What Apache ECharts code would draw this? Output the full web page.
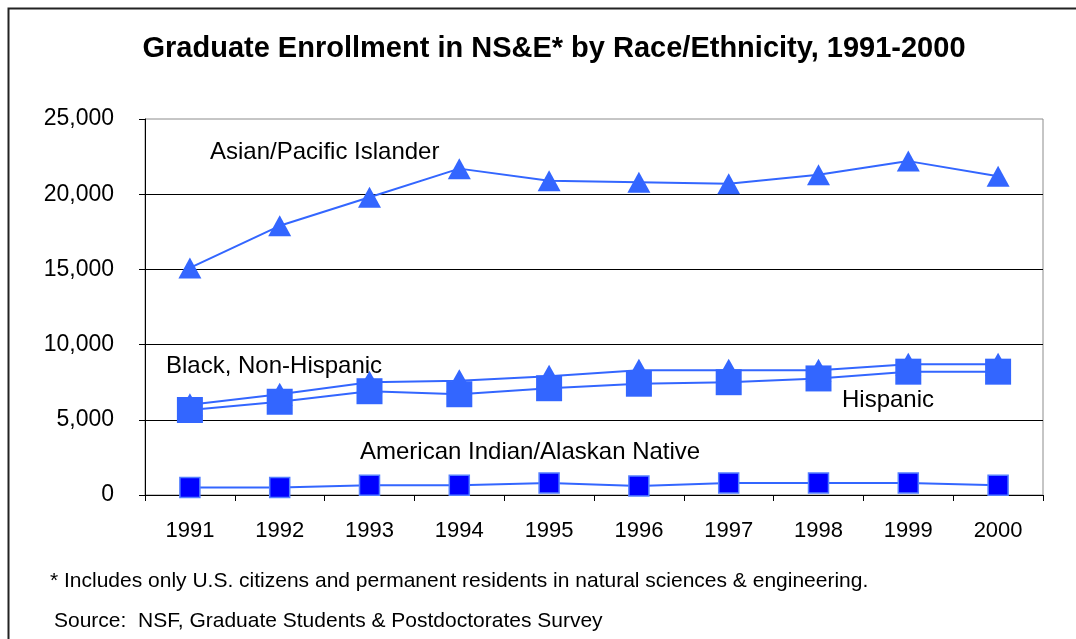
<!DOCTYPE html>
<html>
<head>
<meta charset="utf-8">
<script src="https://cdn.jsdelivr.net/npm/echarts@6/dist/echarts.min.js"></script>
<style>
  html, body { margin: 0; padding: 0; background: #fff; }
  #chart { width: 1076px; height: 639px; }
</style>
</head>
<body>
<div id="chart"></div>
<script>
// Graduate enrollment in natural sciences & engineering, by race/ethnicity
const years = ['1991', '1992', '1993', '1994', '1995', '1996', '1997', '1998', '1999', '2000'];
const asianPacific = [15100, 17900, 19800, 21700, 20900, 20800, 20700, 21300, 22200, 21200];
const blackNonHispanic = [6000, 6700, 7500, 7600, 7900, 8300, 8300, 8300, 8700, 8700];
const hispanic = [5650, 6200, 6900, 6700, 7100, 7400, 7500, 7750, 8200, 8200];
const americanIndian = [500, 500, 650, 650, 800, 600, 800, 800, 800, 650];
const yTicks = [0, 5000, 10000, 15000, 20000, 25000];

const FONT = "'Liberation Sans', Arial, sans-serif";
const BLUE = '#3366FF';

const chart = echarts.init(document.getElementById('chart'), null, { renderer: 'canvas' });

function lineSeries(name, data, symbol, size, fill, border) {
  return {
    name: name,
    type: 'line',
    data: data,
    symbol: symbol,
    symbolSize: size,
    showAllSymbol: true,
    animation: false,
    lineStyle: { color: BLUE, width: 2 },
    itemStyle: { color: fill, borderColor: border || fill, borderWidth: border ? 1.5 : 0 }
  };
}

function seriesLabel(text, x, y) {
  return { type: 'text', x: x, y: y, z: 100,
    style: { text: text, font: '24px ' + FONT, fill: '#000', textVerticalAlign: 'middle' } };
}

chart.setOption({
  animation: false,
  backgroundColor: '#fff',
  title: {
    text: 'Graduate Enrollment in NS&E* by Race/Ethnicity, 1991-2000',
    left: 549,
    textAlign: 'center',
    top: 29,
    textStyle: { fontFamily: FONT, fontSize: 29, fontWeight: 'bold', color: '#000' }
  },
  grid: {
    left: 145, top: 119, right: 33, bottom: 144,
    show: true, borderColor: '#8c8c8c', borderWidth: 1, backgroundColor: '#fff'
  },
  xAxis: {
    type: 'category',
    data: years,
    boundaryGap: true,
    axisLine: { show: true, lineStyle: { color: '#000', width: 1 } },
    axisTick: { show: true, length: 6, inside: false, alignWithLabel: false, lineStyle: { color: '#000' } },
    axisLabel: { fontFamily: FONT, fontSize: 22, color: '#000', margin: 25 },
    splitLine: { show: false }
  },
  yAxis: {
    type: 'value',
    min: yTicks[0],
    max: yTicks[yTicks.length - 1],
    interval: 5000,
    axisLine: { show: true, lineStyle: { color: '#000', width: 1 } },
    axisTick: { show: true, length: 6, inside: false, lineStyle: { color: '#000' } },
    axisLabel: {
      fontFamily: FONT, fontSize: 23, color: '#000', margin: 31,
      formatter: v => v.toLocaleString('en-US')
    },
    splitLine: { show: true, showMaxLine: false, showMinLine: false, lineStyle: { color: '#000', width: 1 } }
  },
  series: [
    lineSeries('Asian/Pacific Islander', asianPacific, 'triangle', [23, 21], BLUE),
    lineSeries('Black, Non-Hispanic', blackNonHispanic, 'triangle', [26, 23], BLUE),
    lineSeries('Hispanic', hispanic, 'rect', [26, 26], BLUE),
    lineSeries('American Indian/Alaskan Native', americanIndian, 'rect', [20, 20], '#0000FF', '#5580FF')
  ],
  graphic: [
    { type: 'rect', left: 6, top: 6, silent: true, z: 100,
      shape: { x: 0, y: 0, width: 1100, height: 700 },
      style: { fill: 'none', stroke: '#222', lineWidth: 2 } },
    seriesLabel('Asian/Pacific Islander', 210, 152),
    seriesLabel('Black, Non-Hispanic', 166, 366),
    seriesLabel('Hispanic', 842, 400),
    seriesLabel('American Indian/Alaskan Native', 360, 452),
    { type: 'text', x: 50, y: 581, z: 100,
      style: { text: '* Includes only U.S. citizens and permanent residents in natural sciences & engineering.', font: '21px ' + FONT, fill: '#000', textVerticalAlign: 'middle' } },
    { type: 'text', x: 54, y: 621, z: 100,
      style: { text: 'Source:  NSF, Graduate Students & Postdoctorates Survey', font: '21px ' + FONT, fill: '#000', textVerticalAlign: 'middle' } }
  ]
});
</script>
</body>
</html>
